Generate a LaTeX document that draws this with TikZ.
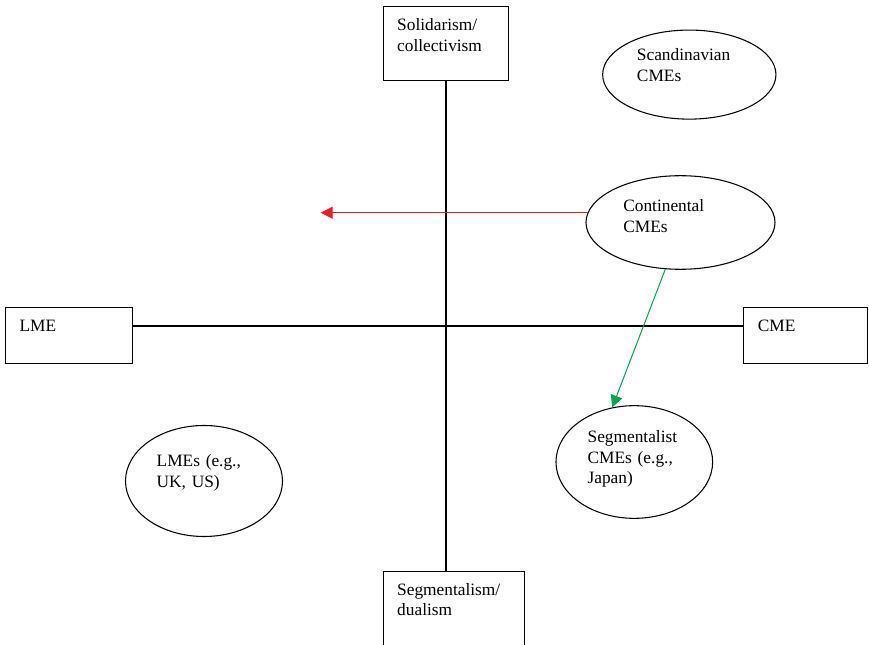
\documentclass[tikz,border=0pt]{standalone}
\usepackage{fontspec}
\setmainfont{Liberation Serif}
\usetikzlibrary{shapes.geometric,arrows.meta,positioning}
\definecolor{arrowred}{RGB}{237,28,36}
\definecolor{arrowgreen}{RGB}{0,166,81}

\begin{document}
\begin{tikzpicture}[x=0.75pt,y=-0.75pt,
	font=\fontsize{13}{15.4}\selectfont,
	box/.style={draw, line width=0.8pt, anchor=north west, align=left, inner xsep=10.5pt, inner ysep=8.9pt, text height=9.2pt},
	blob/.style={draw, ellipse, line width=0.8pt, align=left, inner sep=0pt, text height=9.2pt},
	movearrow/.style={-{Triangle[length=9pt,width=9pt]}, line width=0.75pt}]
\useasboundingbox (0,0) rectangle (869,645);
% nodes
\node [box, text width=73.2pt, text depth=28.5pt] (solid) at (382.7,6) {Solidarism/\\collectivism};
\node [box, text width=85pt, text depth=33pt] (segm) at (382.7,570.7) {Segmentalism/\\dualism};
\node [box, text width=74pt, text depth=15pt] (lme) at (5,307.3) {LME};
\node [box, text width=71.5pt, text depth=15pt] (cme) at (743.3,307.3) {CME};
\node [blob, minimum width=130pt, minimum height=66.8pt, text width=78.5pt, text depth=30.1pt] (scand) at (689.3,74.6) {Scandinavian\\CMEs};
\node [blob, minimum width=141.75pt, minimum height=70.2pt, text width=85.8pt, text depth=25.4pt] (cont) at (680.5,222.5) {Continental\\CMEs};
\node [blob, minimum width=117.5pt, minimum height=84.5pt, text width=70pt, text depth=38.2pt] (seg) at (634.3,462) {Segmentalist\\CMEs (e.g.,\\Japan)};
\node [blob, minimum width=117.75pt, minimum height=83.25pt, text width=71pt, text depth=30.7pt] (lmes) at (204,481) {LMEs (e.g.,\\UK, US)};
\coordinate (cross) at (446,326);
\coordinate (redtip) at (320.7,213.3);
% axes
\draw [line width=0.8pt] (lme.east |- cross) -- (cme.west |- cross);
\draw [line width=0.8pt] (solid.south -| cross) -- (segm.north -| cross);
% arrows
\draw [movearrow, arrowred] (cont.174) -- (cont.174 -| redtip);
\draw [movearrow, arrowgreen] (cont.252) -- (seg.112);
\end{tikzpicture}
\end{document}
